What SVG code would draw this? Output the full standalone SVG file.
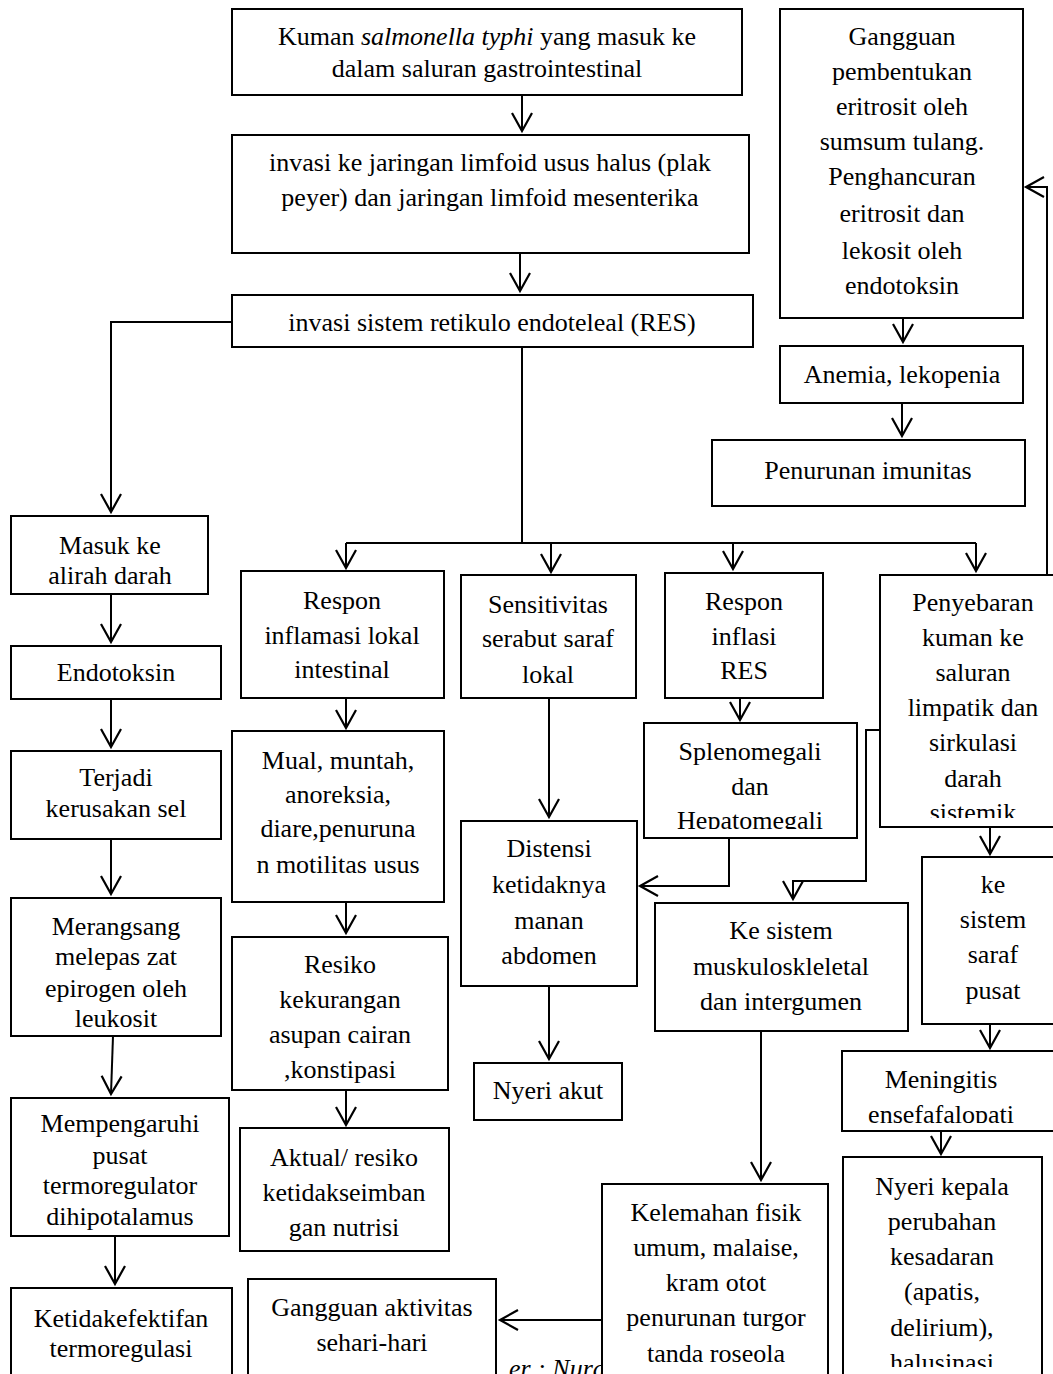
<svg xmlns="http://www.w3.org/2000/svg" width="1053" height="1374" viewBox="0 0 1053 1374">
<style>
.box{fill:#fff;stroke:#000;stroke-width:2}
.t{font-family:"Liberation Serif","Times New Roman",serif;font-size:26px;text-anchor:middle;fill:#000}
.c{fill:none;stroke:#000;stroke-width:2;marker-end:url(#ah)}
.l{fill:none;stroke:#000;stroke-width:2}
</style>
<defs>
<marker id="ah" markerUnits="userSpaceOnUse" markerWidth="40" markerHeight="40" refX="0" refY="0" orient="auto" viewBox="-30 -20 40 40" overflow="visible">
<path d="M-18,-10 L0,0 L-18,10" fill="none" stroke="#000" stroke-width="2.2"/>
</marker>
<clipPath id="cSpl"><rect x="644" y="723" width="213" height="106"/></clipPath>
<clipPath id="cPen"><rect x="880" y="575" width="180" height="243"/></clipPath>
<clipPath id="cMen"><rect x="842" y="1051" width="214" height="72"/></clipPath>
<clipPath id="cNk"><rect x="843" y="1157" width="199" height="210"/></clipPath>
<clipPath id="cCap"><rect x="497" y="1340" width="104" height="40"/></clipPath>
</defs>

<g id="caption" clip-path="url(#cCap)">
<text class="t" x="509" y="1377" style="text-anchor:start;font-style:italic">er : Nura</text>
</g>

<g id="connectors">
<path class="c" d="M522,95 V131"/>
<path class="c" d="M520,253 V291"/>
<path class="c" d="M232,322 H111 V512"/>
<path class="l" d="M522,347 V543 M346,543 H976"/>
<path class="c" d="M346,543 V568"/>
<path class="c" d="M551,543 V572"/>
<path class="c" d="M733,543 V569"/>
<path class="c" d="M976,543 V571"/>
<path class="c" d="M111,594 V642"/>
<path class="c" d="M111,699 V747"/>
<path class="c" d="M111,839 V894"/>
<path class="c" d="M113,1036 L111,1094"/>
<path class="c" d="M115,1236 V1284"/>
<path class="c" d="M346,698 V728"/>
<path class="c" d="M346,902 V933"/>
<path class="c" d="M346,1090 V1125"/>
<path class="c" d="M549,698 V817"/>
<path class="c" d="M549,986 V1059"/>
<path class="c" d="M740,698 V720"/>
<path class="c" d="M729,838 V886 H640"/>
<path class="c" d="M880,730 H866 V881 H793 V899"/>
<path class="c" d="M1047,575 V187 H1026"/>
<path class="c" d="M990,827 V854"/>
<path class="c" d="M990,1024 V1048"/>
<path class="c" d="M941,1131 V1154"/>
<path class="c" d="M761,1031 V1180"/>
<path class="c" d="M602,1320 H500"/>
<path class="c" d="M903,318 V342"/>
<path class="c" d="M902,403 V436"/>
</g>

<g id="n_kuman"><rect class="box" x="232" y="9" width="510" height="86"/>
<text class="t" x="487" y="45">Kuman <tspan font-style="italic">salmonella typhi</tspan> yang masuk ke</text>
<text class="t" x="487" y="77">dalam saluran gastrointestinal</text></g>

<g id="n_invasi1"><rect class="box" x="232" y="135" width="517" height="118"/>
<text class="t" x="490" y="171">invasi ke jaringan limfoid usus halus (plak</text>
<text class="t" x="490" y="206">peyer) dan jaringan limfoid mesenterika</text></g>

<g id="n_res"><rect class="box" x="232" y="295" width="521" height="52"/>
<text class="t" x="492" y="331">invasi sistem retikulo endoteleal (RES)</text></g>

<g id="n_gangguan"><rect class="box" x="780" y="9" width="243" height="309"/>
<text class="t" x="902" y="45">Gangguan</text>
<text class="t" x="902" y="80">pembentukan</text>
<text class="t" x="902" y="115">eritrosit oleh</text>
<text class="t" x="902" y="150">sumsum tulang.</text>
<text class="t" x="902" y="185">Penghancuran</text>
<text class="t" x="902" y="222">eritrosit dan</text>
<text class="t" x="902" y="259">lekosit oleh</text>
<text class="t" x="902" y="294">endotoksin</text></g>

<g id="n_anemia"><rect class="box" x="780" y="346" width="243" height="57"/>
<text class="t" x="902" y="383">Anemia, lekopenia</text></g>

<g id="n_imun"><rect class="box" x="712" y="440" width="313" height="66"/>
<text class="t" x="868" y="479">Penurunan imunitas</text></g>

<g id="n_masuk"><rect class="box" x="11" y="516" width="197" height="78"/>
<text class="t" x="110" y="554">Masuk ke</text>
<text class="t" x="110" y="584">alirah darah</text></g>

<g id="n_endo"><rect class="box" x="11" y="646" width="210" height="53"/>
<text class="t" x="116" y="681">Endotoksin</text></g>

<g id="n_terjadi"><rect class="box" x="11" y="751" width="210" height="88"/>
<text class="t" x="116" y="786">Terjadi</text>
<text class="t" x="116" y="817">kerusakan sel</text></g>

<g id="n_merangsang"><rect class="box" x="11" y="898" width="210" height="138"/>
<text class="t" x="116" y="935">Merangsang</text>
<text class="t" x="116" y="965">melepas zat</text>
<text class="t" x="116" y="997">epirogen oleh</text>
<text class="t" x="116" y="1027">leukosit</text></g>

<g id="n_mempengaruhi"><rect class="box" x="11" y="1098" width="218" height="138"/>
<text class="t" x="120" y="1132">Mempengaruhi</text>
<text class="t" x="120" y="1164">pusat</text>
<text class="t" x="120" y="1194">termoregulator</text>
<text class="t" x="120" y="1225">dihipotalamus</text></g>

<g id="n_ketidak"><rect class="box" x="11" y="1288" width="221" height="100"/>
<text class="t" x="121" y="1327">Ketidakefektifan</text>
<text class="t" x="121" y="1357">termoregulasi</text></g>

<g id="n_respon1"><rect class="box" x="241" y="571" width="203" height="127"/>
<text class="t" x="342" y="609">Respon</text>
<text class="t" x="342" y="644">inflamasi lokal</text>
<text class="t" x="342" y="678">intestinal</text></g>

<g id="n_mual"><rect class="box" x="232" y="731" width="212" height="171"/>
<text class="t" x="338" y="769">Mual, muntah,</text>
<text class="t" x="338" y="803">anoreksia,</text>
<text class="t" x="338" y="837">diare,penuruna</text>
<text class="t" x="338" y="873">n motilitas usus</text></g>

<g id="n_resiko"><rect class="box" x="232" y="937" width="216" height="153"/>
<text class="t" x="340" y="973">Resiko</text>
<text class="t" x="340" y="1008">kekurangan</text>
<text class="t" x="340" y="1043">asupan cairan</text>
<text class="t" x="340" y="1078">,konstipasi</text></g>

<g id="n_aktual"><rect class="box" x="240" y="1128" width="209" height="123"/>
<text class="t" x="344" y="1166">Aktual/ resiko</text>
<text class="t" x="344" y="1201">ketidakseimban</text>
<text class="t" x="344" y="1236">gan nutrisi</text></g>

<g id="n_sens"><rect class="box" x="461" y="575" width="175" height="123"/>
<text class="t" x="548" y="613">Sensitivitas</text>
<text class="t" x="548" y="647">serabut saraf</text>
<text class="t" x="548" y="683">lokal</text></g>

<g id="n_distensi"><rect class="box" x="461" y="821" width="176" height="165"/>
<text class="t" x="549" y="857">Distensi</text>
<text class="t" x="549" y="893">ketidaknya</text>
<text class="t" x="549" y="929">manan</text>
<text class="t" x="549" y="964">abdomen</text></g>

<g id="n_nyeri"><rect class="box" x="474" y="1063" width="148" height="57"/>
<text class="t" x="548" y="1099">Nyeri akut</text></g>

<g id="n_respon2"><rect class="box" x="665" y="573" width="158" height="125"/>
<text class="t" x="744" y="610">Respon</text>
<text class="t" x="744" y="645">inflasi</text>
<text class="t" x="744" y="679">RES</text></g>

<g id="n_spleno"><rect class="box" x="644" y="723" width="213" height="115"/>
<g clip-path="url(#cSpl)">
<text class="t" x="750" y="760">Splenomegali</text>
<text class="t" x="750" y="795">dan</text>
<text class="t" x="750" y="829">Hepatomegali</text></g></g>

<g id="n_penyebaran"><rect class="box" x="880" y="575" width="180" height="252"/>
<g clip-path="url(#cPen)">
<text class="t" x="973" y="611">Penyebaran</text>
<text class="t" x="973" y="646">kuman ke</text>
<text class="t" x="973" y="681">saluran</text>
<text class="t" x="973" y="716">limpatik dan</text>
<text class="t" x="973" y="751">sirkulasi</text>
<text class="t" x="973" y="787">darah</text>
<text class="t" x="973" y="821">sistemik</text></g></g>

<g id="n_saraf"><rect class="box" x="922" y="857" width="140" height="167"/>
<text class="t" x="993" y="893">ke</text>
<text class="t" x="993" y="928">sistem</text>
<text class="t" x="993" y="963">saraf</text>
<text class="t" x="993" y="999">pusat</text></g>

<g id="n_meningitis"><rect class="box" x="842" y="1051" width="220" height="80"/>
<g clip-path="url(#cMen)">
<text class="t" x="941" y="1088">Meningitis</text>
<text class="t" x="941" y="1123">ensefafalopati</text></g></g>

<g id="n_nyerikepala"><rect class="box" x="843" y="1157" width="199" height="230"/>
<g clip-path="url(#cNk)">
<text class="t" x="942" y="1195">Nyeri kepala</text>
<text class="t" x="942" y="1230">perubahan</text>
<text class="t" x="942" y="1265">kesadaran</text>
<text class="t" x="942" y="1300">(apatis,</text>
<text class="t" x="942" y="1336">delirium),</text>
<text class="t" x="942" y="1371">halusinasi</text></g></g>

<g id="n_muskulo"><rect class="box" x="655" y="903" width="253" height="128"/>
<text class="t" x="781" y="939">Ke sistem</text>
<text class="t" x="781" y="975">muskuloskleletal</text>
<text class="t" x="781" y="1010">dan intergumen</text></g>

<g id="n_kelemahan"><rect class="box" x="602" y="1184" width="226" height="200"/>
<text class="t" x="716" y="1221">Kelemahan fisik</text>
<text class="t" x="716" y="1256">umum, malaise,</text>
<text class="t" x="716" y="1291">kram otot</text>
<text class="t" x="716" y="1326">penurunan turgor</text>
<text class="t" x="716" y="1362">tanda roseola</text></g>

<g id="n_aktivitas"><rect class="box" x="248" y="1279" width="248" height="110"/>
<text class="t" x="372" y="1316">Gangguan aktivitas</text>
<text class="t" x="372" y="1351">sehari-hari</text></g>
</svg>
